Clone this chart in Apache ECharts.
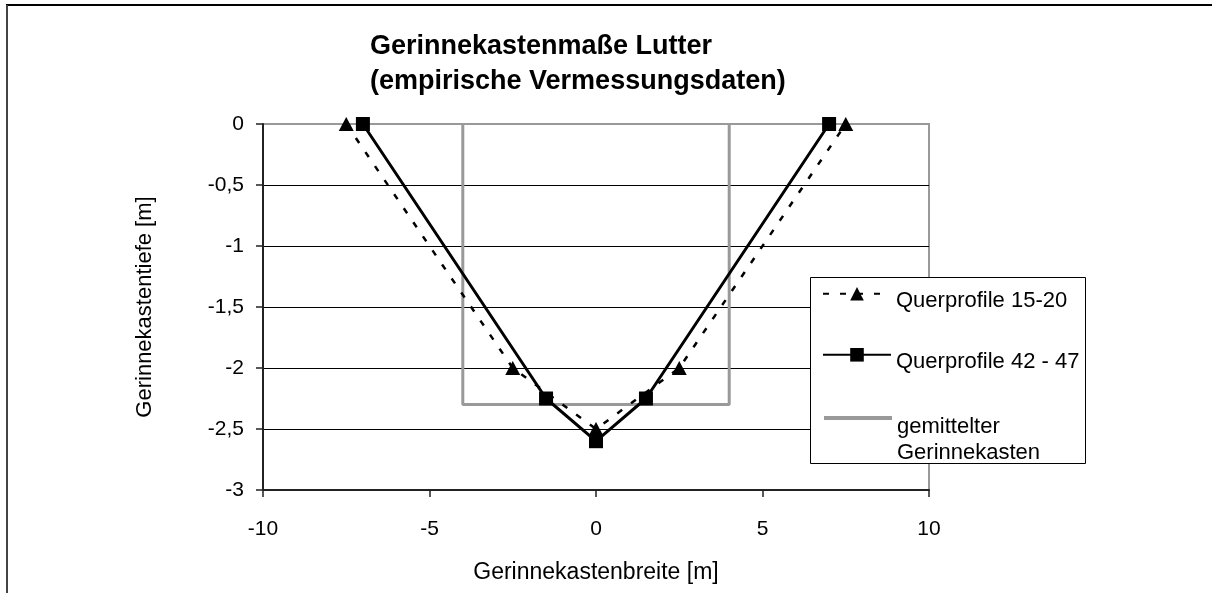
<!DOCTYPE html>
<html>
<head>
<meta charset="utf-8">
<script src="https://cdn.jsdelivr.net/npm/echarts@6/dist/echarts.min.js"></script>
<style>
html,body{margin:0;padding:0;background:#fff;}
#c{width:1212px;height:593px;}
</style>
</head>
<body>
<div id="c"></div>
<script>
const titleLines = ['Gerinnekastenmaße Lutter', '(empirische Vermessungsdaten)'];
const xName = 'Gerinnekastenbreite [m]';
const yName = 'Gerinnekastentiefe [m]';
const seriesNames = ['Querprofile 15-20', 'Querprofile 42 - 47', 'gemittelter Gerinnekasten'];
const xTicks = [-10, -5, 0, 5, 10];
const yTicks = [-3, -2.5, -2, -1.5, -1, -0.5, 0];
const q1520X = [-7.5, -2.5, 0, 2.5, 7.5];
const q1520Y = [0, -2, -2.5, -2, 0];
const q4247X = [-7, -1.5, 0, 1.5, 7];
const q4247Y = [0, -2.25, -2.6, -2.25, 0];
const kastenX = [-4, -4, 4, 4];
const kastenY = [0, -2.3, -2.3, 0];

const FONT = '"Liberation Sans", Arial, sans-serif';
const zip = (xs, ys) => xs.map((x, i) => [x, ys[i]]);

const chart = echarts.init(document.getElementById('c'), null, {renderer: 'canvas'});
const fmt = v => String(v).replace('.', ',');

function legendOf(name, top, padTop, fmtFn, extra) {
  const l = {
    data: [name], left: 822, top: top, orient: 'vertical', padding: 0,
    itemWidth: 68, itemHeight: 17, itemGap: 0, z: 10,
    textStyle: {fontFamily: FONT, fontSize: 22, color: '#000', padding: [padTop, 0, 0, 0], rich: {
      t: {fontFamily: FONT, fontSize: 22, color: '#000', lineHeight: 26},
      sp: {fontSize: 10, lineHeight: 38}
    }},
    formatter: fmtFn || (n => n)
  };
  return Object.assign(l, extra || {});
}

const option = {
  animation: false,
  backgroundColor: '#fff',
  title: {
    text: titleLines.join('\n'), left: 370, top: 29, padding: 0,
    textStyle: {fontFamily: FONT, fontSize: 27, fontWeight: 'bold', color: '#000', lineHeight: 35}
  },
  grid: {left: 263, right: 283, top: 124, bottom: 103, show: true, borderColor: '#999', borderWidth: 2, backgroundColor: 'transparent'},
  xAxis: {
    type: 'value', min: -10, max: 10, interval: 5,
    name: xName, nameLocation: 'middle', nameGap: 71,
    nameTextStyle: {fontFamily: FONT, fontSize: 23, color: '#000'},
    axisLine: {show: true, onZero: false, lineStyle: {color: '#222', width: 2}},
    axisTick: {show: true, inside: false, length: 7, lineStyle: {color: '#222', width: 1.5}},
    axisLabel: {fontFamily: FONT, fontSize: 21, color: '#000', margin: 29, formatter: fmt},
    splitLine: {show: false}
  },
  yAxis: {
    type: 'value', min: -3, max: 0, interval: 0.5,
    name: yName, nameLocation: 'middle', nameGap: 107, nameRotate: 90,
    nameTextStyle: {fontFamily: FONT, fontSize: 22, color: '#000'},
    axisLine: {show: true, onZero: false, lineStyle: {color: '#222', width: 2}},
    axisTick: {show: true, inside: false, length: 7, lineStyle: {color: '#222', width: 1.5}},
    axisLabel: {fontFamily: FONT, fontSize: 21, color: '#000', margin: 19, formatter: fmt},
    splitLine: {show: true, showMaxLine: false, showMinLine: false, lineStyle: {color: '#000', width: 1}}
  },
  legend: [
    legendOf(seriesNames[0], 287, 14),
    legendOf(seriesNames[1], 348, 14),
    legendOf(seriesNames[2], 390, 6, () => '{sp| }\n{t|gemittelter}\n{t|Gerinnekasten}',
      {itemStyle: {opacity: 0}, lineStyle: {color: '#999', width: 4}})
  ],
  graphic: [
    {type: 'line', z: 100, shape: {x1: 6, y1: 5, x2: 1212, y2: 5}, style: {stroke: '#000', lineWidth: 2}},
    {type: 'line', z: 100, shape: {x1: 7, y1: 5, x2: 7, y2: 593}, style: {stroke: '#444', lineWidth: 2}},
    {type: 'rect', z: 5, shape: {x: 810.5, y: 277.5, width: 275, height: 186}, style: {fill: '#fff', stroke: '#000', lineWidth: 1}}
  ],
  series: [
    {
      name: seriesNames[0], type: 'line', data: zip(q1520X, q1520Y), z: 3,
      symbol: 'triangle', symbolSize: [15, 14],
      lineStyle: {color: '#000', width: 2.5, type: [6, 11]},
      itemStyle: {color: '#000'}
    },
    {
      name: seriesNames[1], type: 'line', data: zip(q4247X, q4247Y), z: 4,
      symbol: 'rect', symbolSize: 14,
      lineStyle: {color: '#000', width: 3},
      itemStyle: {color: '#000'}
    },
    {
      name: seriesNames[2], type: 'line', data: zip(kastenX, kastenY), z: 2,
      symbol: 'none',
      lineStyle: {color: '#999', width: 3},
      itemStyle: {color: '#999'}
    }
  ]
};
chart.setOption(option);
</script>
</body>
</html>
